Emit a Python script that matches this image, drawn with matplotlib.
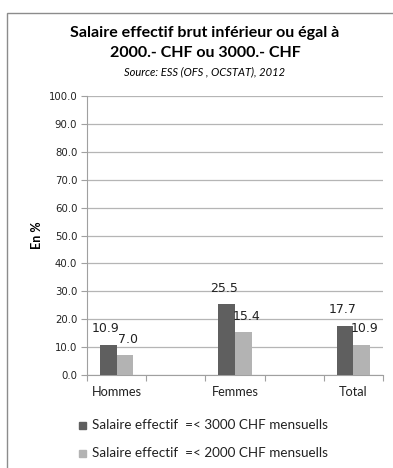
import matplotlib
matplotlib.use('Agg')
import matplotlib.pyplot as plt
from matplotlib.patches import Rectangle
import numpy as np

categories = ['Hommes', '', 'Femmes', '', 'Total']
sal_3000 = [10.9, None, 25.5, None, 17.7]
sal_2000 = [7.0, None, 15.4, None, 10.9]
series_names = ['Salaire effectif  =< 3000 CHF mensuells',
                'Salaire effectif  =< 2000 CHF mensuells']
yticks = np.arange(0, 101, 10)

W, H = 393, 468
fig = plt.figure(figsize=(W / 100, H / 100), dpi=100)

# outer chart frame (cut off at right and bottom)
fig.patches.append(Rectangle((7 / W, -0.1), 1.2, 1.1 - 13 / H,
                             transform=fig.transFigure, fill=False,
                             edgecolor='#8c8c8c', linewidth=1.0))

ax = fig.add_axes([87 / W, 1 - 375 / H, 296 / W, 279 / H])

x = np.arange(len(categories))
w = 0.28
for i in range(len(categories)):
    if sal_3000[i] is None:
        continue
    ax.bar(x[i] - w / 2, sal_3000[i], w, color='#5f5f5f', zorder=3)
    ax.bar(x[i] + w / 2, sal_2000[i], w, color='#b3b3b3', zorder=3)
    ax.text(x[i] - w / 2 - 0.05, sal_3000[i] + 3.3, f'{sal_3000[i]:.1f}',
            ha='center', va='bottom', fontsize=9, color='#222222', zorder=4)
    ax.text(x[i] + w / 2 + 0.05, sal_2000[i] + 3.3, f'{sal_2000[i]:.1f}',
            ha='center', va='bottom', fontsize=9, color='#222222', zorder=4)

ax.set_xlim(-0.5, len(categories) - 0.5)
ax.set_ylim(0, 100)
ax.set_yticks(yticks)
ax.set_yticklabels([f'{v:.1f}' for v in yticks], fontsize=7.3, color='#222222')
ax.set_xticks(np.arange(-0.5, len(categories), 1.0))
ax.set_xticklabels([])
ax.set_xticks(x, minor=True)
ax.set_xticklabels(categories, minor=True, fontsize=9.2, family='Lato',
                   color='#222222')
ax.tick_params(axis='x', which='minor', length=0, pad=8)
ax.tick_params(axis='x', which='major', length=4, color='#a0a0a0')
ax.tick_params(axis='y', length=4, color='#a0a0a0', pad=3)

ax.grid(axis='y', color='#b5b5b5', linewidth=0.9, zorder=0)
for s in ['top', 'right']:
    ax.spines[s].set_visible(False)
ax.spines['left'].set_color('#a0a0a0')
ax.spines['bottom'].set_color('#a0a0a0')

ax.set_ylabel('En %', fontsize=9, fontweight='bold', family='Lato', labelpad=4)

fig.text(205 / W, 1 - 33 / H, 'Salaire effectif brut inférieur ou égal à',
         ha='center', va='center', fontsize=11.5, fontweight='bold', family='Lato')
fig.text(205 / W, 1 - 53 / H, '2000.- CHF ou 3000.- CHF',
         ha='center', va='center', fontsize=11.5, fontweight='bold', family='Lato')
fig.text(205 / W, 1 - 72 / H, 'Source: ESS (OFS , OCSTAT), 2012',
         ha='center', va='center', fontsize=8, style='italic', family='Lato')

# legend
for yy, col, name in [(425, '#5f5f5f', series_names[0]),
                      (453, '#b3b3b3', series_names[1])]:
    fig.patches.append(Rectangle((79 / W, 1 - (yy + 3.5) / H), 7 / W, 7 / H,
                                 transform=fig.transFigure, color=col))
    fig.text(92 / W, 1 - yy / H, name, ha='left', va='center', fontsize=9.7,
             family='Lato', color='#222222')

fig.savefig('out.png', dpi=100)
